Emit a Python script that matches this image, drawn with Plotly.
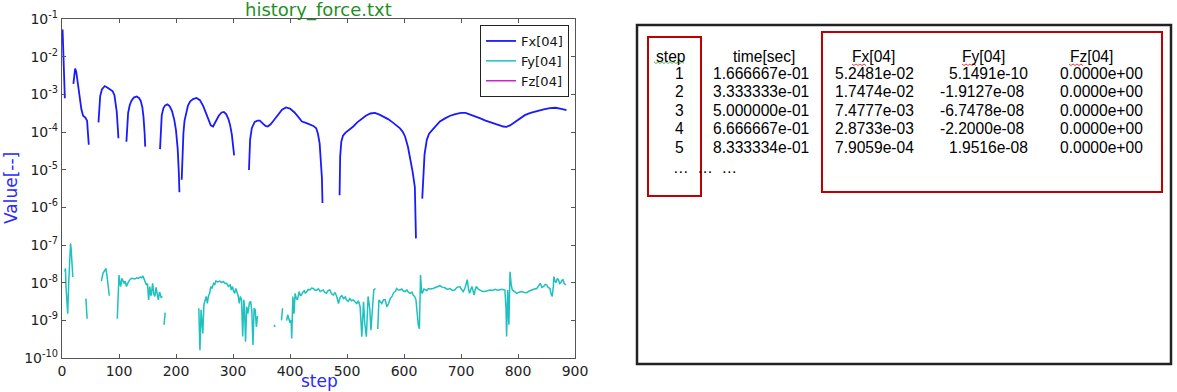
import plotly.graph_objects as go

# ---------------- data ----------------
tbl_step = [1, 2, 3, 4, 5]
tbl_time = [1.666667e-01, 3.333333e-01, 5.000000e-01, 6.666667e-01, 8.333334e-01]
tbl_fx = [5.2481e-02, 1.7474e-02, 7.4777e-03, 2.8733e-03, 7.9059e-04]
tbl_fy = [5.1491e-10, -1.9127e-08, -6.7478e-08, -2.2000e-08, 1.9516e-08]
tbl_fz = [0.0, 0.0, 0.0, 0.0, 0.0]

# Fx segments (gaps where Fx <= 0)
fx_seg2_steps = [20, 22, 23, 25, 28, 31, 34, 37, 41, 44, 46, 47]
fx_seg2_vals = [1.9e-3, 4.2e-3, 4.8e-3, 4.0e-3, 1.9e-3, 8e-4, 4e-4, 2.7e-4, 2.4e-4, 2.0e-4, 1.0e-4, 4.6e-5]
fx_seg3_steps = [64, 65, 67, 70, 75, 80, 85, 89, 92, 94, 96, 98, 99]
fx_seg3_vals = [1.8e-4, 4.5e-4, 9e-4, 1.35e-3, 1.66e-3, 1.5e-3, 1.35e-3, 1.2e-3, 9.5e-4, 6.5e-4, 3.5e-4, 1.2e-4, 6.8e-5]
fx_seg4_steps = [113, 114, 116, 119, 122, 126, 131, 135, 138, 141, 143, 145, 146]
fx_seg4_vals = [5.5e-5, 1.5e-4, 3.2e-4, 5.3e-4, 6.8e-4, 8.2e-4, 8.8e-4, 8e-4, 6.8e-4, 4.5e-4, 2.5e-4, 9e-5, 4.1e-5]
fx_seg5_steps = [172, 173, 175, 178, 181, 185, 189, 193, 197, 200, 203, 205, 206]
fx_seg5_vals = [3.5e-5, 1.2e-4, 2.8e-4, 4.3e-4, 5.1e-4, 5.4e-4, 4.8e-4, 3.6e-4, 2.1e-4, 1.1e-4, 3.5e-5, 8e-6, 2.5e-6]
fx_seg6_steps = [210, 211, 213, 215, 218, 221, 225, 230, 236, 242, 248, 253, 257, 261, 265,
                 270, 275, 280, 284, 288, 292, 295, 298, 300, 302]
fx_seg6_vals = [5.4e-6, 2.5e-5, 9.3e-5, 2e-4, 3.4e-4, 5e-4, 6.5e-4, 7.5e-4, 8e-4, 7e-4, 4.8e-4, 3e-4, 2e-4, 1.5e-4, 1.4e-4,
                1.9e-4, 2.7e-4, 3.3e-4, 3.4e-4, 3e-4, 2.2e-4, 1.5e-4, 8.5e-5, 4.5e-5, 2.4e-5]
fx_seg7_steps = [328, 329, 330, 333, 338, 343, 347, 352, 357, 361, 366, 370, 375, 380, 386, 393,
                 400, 408, 415, 421, 428, 435, 441, 446, 449, 452, 454, 456, 457]
fx_seg7_vals = [9.8e-6, 3e-5, 6.2e-5, 1.26e-4, 1.85e-4, 2e-4, 2e-4, 1.7e-4, 1.45e-4, 1.4e-4, 1.6e-4, 1.9e-4, 2.4e-4, 3.1e-4, 3.9e-4, 4.5e-4,
                4.2e-4, 3.3e-4, 2.4e-4, 1.9e-4, 1.75e-4, 1.6e-4, 1.45e-4, 1.25e-4, 9e-5, 5e-5, 2e-5, 6e-6, 1.3e-6]
fx_seg8_steps = [487, 488, 490, 493, 497, 504, 511, 518, 526, 533, 541, 549, 557, 565, 572, 580,
                 587, 593, 598, 602, 607, 611, 615, 619, 621]
fx_seg8_vals = [2.1e-6, 2.2e-5, 5.5e-5, 8e-5, 9.5e-5, 1.15e-4, 1.4e-4, 1.8e-4, 2.2e-4, 2.7e-4, 3.1e-4, 3.2e-4, 2.9e-4, 2.5e-4, 2.2e-4, 1.8e-4,
                1.5e-4, 1.25e-4, 1e-4, 7.5e-5, 4e-5, 2e-5, 9e-6, 3.5e-6, 1.5e-7]
fx_seg9_steps = [632, 634, 636, 640, 644, 649, 656, 663, 672, 681, 690, 700, 708, 717, 726, 734,
                 743, 751, 760, 768, 774, 780, 786, 794, 803, 812, 822, 833, 845, 856, 866, 876, 885]
fx_seg9_vals = [1.7e-6, 1.1e-5, 2.5e-5, 6.2e-5, 9e-5, 1.1e-4, 1.5e-4, 1.9e-4, 2.3e-4, 2.7e-4, 3e-4, 3.2e-4, 3.2e-4, 2.9e-4, 2.6e-4, 2.3e-4,
                2e-4, 1.8e-4, 1.6e-4, 1.5e-4, 1.4e-4, 1.37e-4, 1.5e-4, 1.8e-4, 2.3e-4, 2.8e-4, 3.2e-4, 3.6e-4, 4e-4, 4.3e-4, 4.4e-4, 4.1e-4, 3.8e-4]

# Fy segments (gaps where Fy <= 0)
fy_segA_steps = [6, 7, 8, 10, 12, 14, 15, 16, 17, 19]
fy_segA_vals = [2.4e-8, 8e-9, 4e-9, 1.5e-9, 1.2e-8, 7e-8, 1.1e-7, 8e-8, 4e-8, 1.4e-8]
fy_segB_steps = [42, 43, 44]
fy_segB_vals = [3.8e-9, 1.5e-9, 1.1e-9]
fy_segC_steps = [69, 72, 75, 77, 79, 81, 83]
fy_segC_vals = [1.1e-8, 1.8e-8, 2.1e-8, 2.4e-8, 1.5e-8, 8e-9, 4.5e-9]
fy_segD_steps = [97, 98, 99, 100, 102, 103, 105, 107, 109, 111, 113, 116, 119, 122, 125, 128, 131, 134, 137,
                 140, 142, 144, 146, 148, 150, 152, 154, 156, 157, 159, 161, 163, 165, 166, 168, 169, 171, 172, 174, 176]
fy_segD_vals = [1.1e-9, 4e-9, 7e-9, 1.6e-8, 9e-9, 7.9e-9, 1.3e-8, 1.1e-8, 9.6e-9, 1.1e-8, 7.9e-9, 1e-8, 1.2e-8, 1.3e-8, 1.3e-8, 1.25e-8, 1.35e-8, 1.3e-8, 1.4e-8,
                1.35e-8, 1.5e-8, 1.2e-8, 1.07e-8, 8.7e-9, 9.5e-9, 3.5e-9, 7.9e-9, 4.5e-9, 5.2e-9, 9.6e-9, 5e-9, 4.3e-9, 7.5e-9, 6.4e-9, 3.8e-9, 3.5e-9, 5.6e-9, 5.2e-9, 4e-9, 4.3e-9]
fy_segE_steps = [179, 180, 181]
fy_segE_vals = [7.6e-10, 1.2e-9, 1.6e-9]
fy_segF_steps = [240, 242, 244, 245, 247, 249, 251, 253, 255, 257, 259, 261, 263, 266, 268, 270, 273, 277, 280, 283,
                 286, 289, 292, 295, 297, 299, 301, 303, 305, 307, 309, 311, 313, 315, 317, 319, 320, 322, 324, 326,
                 327, 329, 331, 333, 335, 337, 339, 341, 343]
fy_segF_vals = [2.1e-9, 1.6e-10, 1.9e-9, 1e-9, 4.5e-10, 2.6e-9, 3.5e-9, 4.3e-9, 2.8e-9, 4.5e-9, 5.2e-9, 7.9e-9, 7e-9, 9.6e-9, 9e-9, 1.1e-8, 1.05e-8, 1.1e-8, 1.0e-8, 1.07e-8,
                9.5e-9, 9.6e-9, 8e-9, 8.7e-9, 6.4e-9, 7.9e-9, 6e-9, 5.2e-9, 7e-9, 5.8e-9, 4.5e-9, 2.8e-9, 4.3e-9, 3.5e-9, 3.7e-10, 3.5e-9, 2.5e-9, 2.7e-10, 2.3e-9, 1.5e-9,
                1.9e-9, 3e-9, 3.1e-9, 1.8e-9, 2.2e-10, 2.1e-9, 1.9e-9, 6.7e-10, 1.3e-9]
fy_segG_steps = [372, 374]
fy_segG_vals = [7.6e-10, 6.7e-10]
fy_segH1_steps = [385, 387]
fy_segH1_vals = [1.0e-9, 2.1e-9]
fy_segH2_steps = [394, 396, 398, 400, 402, 403, 405, 407, 409, 411, 413, 416, 418, 420, 422, 425, 427, 429, 432, 435,
                  438, 441, 444, 447, 450, 453, 456, 458, 461, 464, 467, 470, 473, 476, 479, 482, 485, 488, 491, 494,
                  497, 499, 502, 505, 508, 511, 514, 517, 520, 523, 526, 529, 531, 534, 537, 540, 542, 545, 547, 550]
fy_segH2_vals = [9.8e-10, 1.4e-9, 1.1e-9, 8.6e-10, 1.0e-9, 3.3e-10, 4.3e-9, 1.5e-9, 5.2e-9, 3.8e-9, 3.5e-9, 5.8e-9, 4.6e-9, 4.7e-9, 5.5e-9, 6.1e-9, 5.2e-9, 5.8e-9, 6.6e-9, 6.4e-9,
                 7.2e-9, 7e-9, 6.2e-9, 6.4e-9, 6.9e-9, 5.8e-9, 6e-9, 6.4e-9, 5.5e-9, 5.2e-9, 6.2e-9, 6.4e-9, 5e-9, 4.7e-9, 5.5e-9, 4.3e-9, 2.8e-9, 4.1e-9, 4.5e-9, 3.8e-9,
                 4.2e-9, 3.5e-9, 3.2e-9, 3.8e-9, 3.3e-9, 3.5e-9, 3.1e-9, 2.8e-9, 3.3e-9, 2.3e-9, 3.7e-10, 3.1e-9, 8.6e-10, 3.7e-10, 4.3e-9, 2e-9, 5.5e-10, 2.8e-9, 6.4e-9, 7e-9]
fy_segH3_steps = [554, 556, 558, 561, 564, 567, 570, 573, 576, 579, 582, 585, 587, 590, 593, 596, 599, 602, 605, 608,
                  611, 614, 616, 619, 621, 623, 625, 627, 629, 631, 632, 635, 637, 640, 643, 647, 651, 655, 659, 663,
                  667, 672, 676, 681, 685, 689, 693, 698, 701, 704, 707, 709, 711, 713, 715, 717, 719, 721, 723, 725,
                  727, 730, 733, 737, 742, 746, 751, 755, 760, 764, 768, 772, 777, 779, 780, 782, 784, 786, 788, 790,
                  794, 798, 802, 806, 811, 815, 820, 824, 829, 833, 836, 839, 842, 845, 848, 850, 853, 856, 858, 860,
                  862, 863, 865, 867, 869, 871, 873, 875, 877, 879, 881, 884]
fy_segH3_vals = [5.9e-10, 3.5e-9, 3.2e-9, 2.8e-9, 3.5e-9, 3.5e-9, 2.3e-9, 2.8e-9, 3.8e-9, 4.3e-9, 5.5e-9, 5.8e-9, 7e-9, 6.4e-9, 6.4e-9, 6.8e-9, 6e-9, 5.8e-9, 6.4e-9, 5.5e-9,
                 5.2e-9, 5.6e-9, 4.7e-9, 4.2e-9, 3.5e-9, 1.5e-9, 7.6e-10, 6e-10, 1.6e-8, 5.5e-9, 5.2e-9, 6.8e-9, 6.4e-9, 6.2e-9, 7e-9, 6.8e-9, 7e-9, 7.5e-9, 8e-9, 8.3e-9,
                 7.6e-9, 7.3e-9, 6.6e-9, 7e-9, 6.2e-9, 6.4e-9, 7.5e-9, 7.9e-9, 6.6e-9, 5.8e-9, 7.2e-9, 9e-9, 1.2e-8, 7e-9, 5.2e-9, 6.5e-9, 7.9e-9, 6.2e-9, 4.7e-9, 6.6e-9,
                 7.9e-9, 6.8e-9, 6.4e-9, 5.9e-9, 5.8e-9, 6.1e-9, 6.4e-9, 6.2e-9, 6.7e-9, 6.3e-9, 6.4e-9, 6.7e-9, 6.4e-9, 2e-9, 3.7e-10, 6.4e-9, 7.6e-10, 1.95e-8, 9e-9, 6.4e-9,
                 5.8e-9, 5.2e-9, 5.6e-9, 5.8e-9, 5.5e-9, 5.4e-9, 6e-9, 6.4e-9, 6.8e-9, 7e-9, 8e-9, 9.6e-9, 7.5e-9, 7.9e-9, 9e-9, 8.7e-9, 7.5e-9, 7e-9, 5e-9, 4.3e-9,
                 8e-9, 1.45e-8, 1.1e-8, 1.0e-8, 1.3e-8, 1.2e-8, 9.5e-9, 1.0e-8, 1.15e-8, 1.2e-8, 9.5e-9, 8.7e-9]

x_ticks = [0, 100, 200, 300, 400, 500, 600, 700, 800, 900]
y_exponents = [-10, -9, -8, -7, -6, -5, -4, -3, -2, -1]


def positive_only(steps, vals):
    return [s for s in steps], [v if v > 0 else None for v in vals]


def join(segments):
    xs, ys = [], []
    for st, vs in segments:
        if xs:
            xs.append(None)
            ys.append(None)
        xs.extend(st)
        ys.extend(vs)
    return xs, ys


s1, v1 = positive_only(tbl_step, tbl_fx)
fx_x, fx_y = join([(s1, v1), (fx_seg2_steps, fx_seg2_vals), (fx_seg3_steps, fx_seg3_vals),
                   (fx_seg4_steps, fx_seg4_vals), (fx_seg5_steps, fx_seg5_vals), (fx_seg6_steps, fx_seg6_vals),
                   (fx_seg7_steps, fx_seg7_vals), (fx_seg8_steps, fx_seg8_vals), (fx_seg9_steps, fx_seg9_vals)])

fyt_s, fyt_v = positive_only(tbl_step, tbl_fy)
fy_x, fy_y = join([(fyt_s + fy_segA_steps, fyt_v + fy_segA_vals), (fy_segB_steps, fy_segB_vals),
                   (fy_segC_steps, fy_segC_vals), (fy_segD_steps, fy_segD_vals), (fy_segE_steps, fy_segE_vals),
                   (fy_segF_steps, fy_segF_vals), (fy_segG_steps, fy_segG_vals), (fy_segH1_steps, fy_segH1_vals),
                   (fy_segH2_steps, fy_segH2_vals), (fy_segH3_steps, fy_segH3_vals)])

fz_x, fz_y = positive_only(tbl_step, tbl_fz)

# ---------------- layout helpers ----------------
W, H = 1177, 392
ML, MR, MT, MB = 62, 0, 19, 34
PW, PH = W - ML - MR, H - MT - MB


def X(p):
    return (p - ML) / PW


def Y(p):
    return (H - MB - p) / PH


CHART_FONT = "DejaVu Sans"
TABLE_FONT = "Liberation Sans, Arial"

fig = go.Figure()
fig.add_trace(go.Scatter(x=fx_x, y=fx_y, mode="lines", name="Fx[04]",
                         line=dict(color="#1a1aff", width=1.8), connectgaps=False))
fig.add_trace(go.Scatter(x=fy_x, y=fy_y, mode="lines", name="Fy[04]",
                         line=dict(color="#1fc0c0", width=1.5), connectgaps=False))
fig.add_trace(go.Scatter(x=fz_x, y=fz_y, mode="lines", name="Fz[04]",
                         line=dict(color="#d020d0", width=1.5), connectgaps=False))

axis_common = dict(showline=True, linecolor="#555555", linewidth=1.3, mirror="allticks",
                   ticks="inside", ticklen=4, tickcolor="#555555", showgrid=False, zeroline=False,
                   automargin=False,
                   tickfont=dict(family=CHART_FONT, size=14, color="#222222"))

fig.update_layout(
    width=W, height=H,
    margin=dict(l=ML, r=MR, t=MT, b=MB, autoexpand=False),
    paper_bgcolor="white", plot_bgcolor="white",
    xaxis=dict(domain=[0, 513 / PW], range=[0, 900], tickvals=x_ticks,
               ticktext=[str(t) for t in x_ticks], **axis_common),
    yaxis=dict(type="log", range=[-10, -1], tickvals=[10.0 ** e for e in y_exponents],
               ticktext=["10<sup>%d</sup>" % e for e in y_exponents], **axis_common),
    showlegend=True,
    legend=dict(x=X(569), y=Y(25), xanchor="right", yanchor="top",
                bgcolor="white", bordercolor="#222222", borderwidth=1,
                font=dict(family=CHART_FONT, size=13, color="#111111"),
                itemwidth=30, tracegroupgap=0),
)

ann = []
ann.append(dict(x=X(318), y=Y(10), xref="paper", yref="paper", text="history_force.txt",
                showarrow=False, xanchor="center", yanchor="middle",
                font=dict(family=CHART_FONT, size=18, color="#1f8f1f")))
ann.append(dict(x=X(319), y=Y(381), xref="paper", yref="paper", text="step",
                showarrow=False, xanchor="center", yanchor="middle",
                font=dict(family=CHART_FONT, size=17, color="#2a2aff")))
ann.append(dict(x=X(11), y=Y(188), xref="paper", yref="paper", text="Value[--]", textangle=-90,
                showarrow=False, xanchor="center", yanchor="middle",
                font=dict(family=CHART_FONT, size=17, color="#2a2aff")))

# ---------------- table panel ----------------
shapes = []
shapes.append(dict(type="rect", xref="paper", yref="paper", x0=X(637), x1=X(1171), y0=Y(25), y1=Y(364),
                   line=dict(color="#222222", width=2.5), fillcolor="rgba(0,0,0,0)"))
shapes.append(dict(type="rect", xref="paper", yref="paper", x0=X(648), x1=X(701), y0=Y(37), y1=Y(196),
                   line=dict(color="#c00000", width=2)))
shapes.append(dict(type="rect", xref="paper", yref="paper", x0=X(822), x1=X(1162), y0=Y(32), y1=Y(192),
                   line=dict(color="#c00000", width=2)))


def wavy(x0, x1, y, color):
    # spell-check style squiggle under a word
    pts = []
    x = x0
    k = 0
    while x <= x1:
        yy = y + (1.0 if k % 2 else -0.5)
        pts.append("%s%.5f,%.5f" % ("M" if k == 0 else "L", X(x), Y(yy)))
        x += 2
        k += 1
    shapes.append(dict(type="path", xref="paper", yref="paper", path=" ".join(pts),
                       line=dict(color=color, width=1)))


wavy(654, 685, 62.5, "#5cb85c")
wavy(852, 867, 64.5, "#e04040")
wavy(962, 976, 64.5, "#e04040")
wavy(1069, 1083, 64.5, "#e04040")

tf = dict(family=TABLE_FONT, size=15.6, color="#000000")


def txt(x, y, s, anchor):
    ann.append(dict(x=X(x), y=Y(y), xref="paper", yref="paper", text=s, showarrow=False,
                    xanchor=anchor, yanchor="middle", font=tf))


header_y = 56.5
txt(654, header_y, "step", "left")
txt(764, header_y, "time[sec]", "center")
txt(874, header_y, "Fx[04]", "center")
txt(983, header_y, "Fy[04]", "center")
txt(1091, header_y, "Fz[04]", "center")

for i, s in enumerate(tbl_step):
    ry = 73.5 + 18.4 * i
    txt(686, ry, str(s), "right")
    txt(711, ry, "%.6e" % tbl_time[i], "left")
    txt(833, ry, "%.4e" % tbl_fx[i], "left")
    txt(938 if tbl_fy[i] < 0 else 947, ry, "%.4e" % tbl_fy[i], "left")
    txt(1058, ry, "%.4e" % tbl_fz[i], "left")

txt(671, 167, "\u2026  \u2026  \u2026", "left")

fig.update_layout(annotations=ann, shapes=shapes)

fig.write_html("out.html", config={"displayModeBar": False},
               post_script="document.body.style.margin='0';document.body.style.overflow='hidden';")
